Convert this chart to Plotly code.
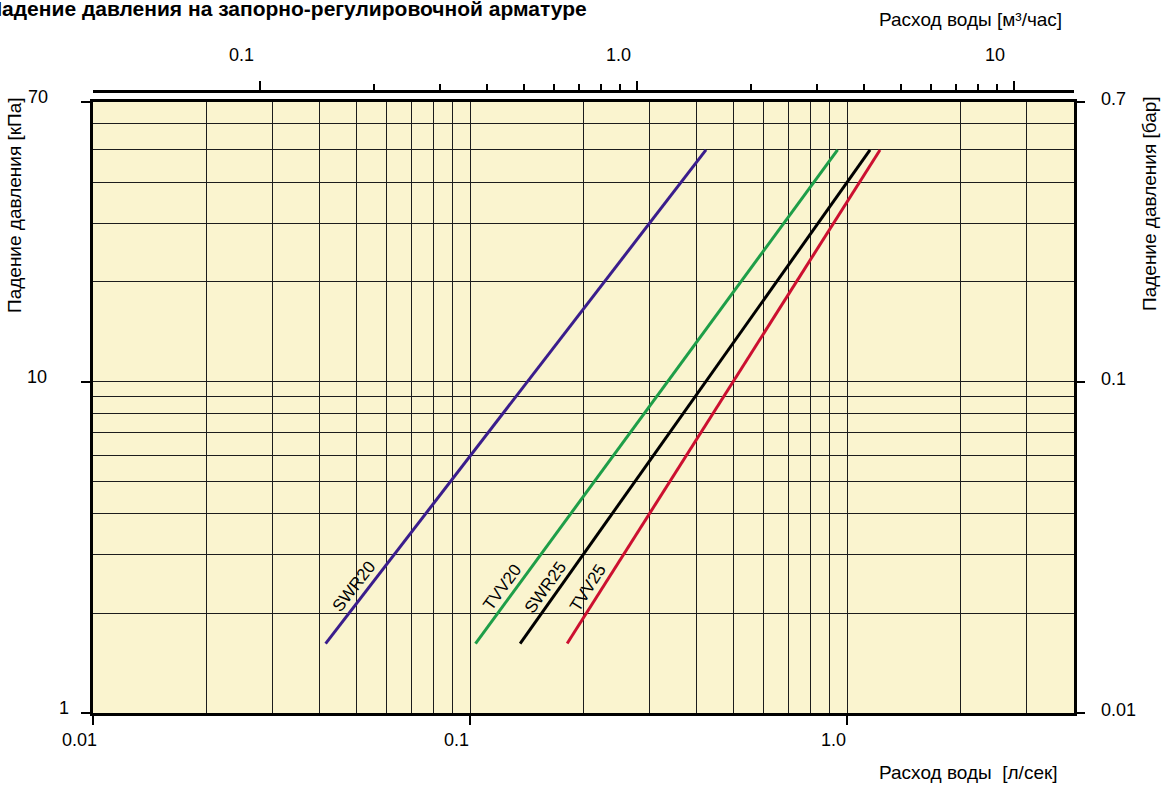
import math
import plotly.graph_objects as go

# ---------------- data ----------------
series_names = ["SWR20", "TVV20", "SWR25", "TVV25"]
flow_start_ls = [0.0414, 0.1034, 0.1358, 0.181]   # л/сек at start of line
flow_end_ls = [0.4226, 0.944, 1.151, 1.223]       # л/сек at end of line
dp_start_kpa = [1.62, 1.62, 1.62, 1.62]
dp_end_kpa = [50, 50, 50, 50]

bottom_tick_vals = [0.01, 0.1, 1.0]
bottom_tick_text = ["0.01", "0.1", "1.0"]
top_tick_vals = [0.1, 1, 10]
top_tick_text = ["0.1", "1.0", "10"]
top_minor_vals = [0.2, 0.3, 0.4, 0.5, 0.6, 0.7, 0.8, 0.9, 2, 3, 4, 5, 6, 7, 8, 9]
left_tick_vals = [70, 10, 1]
left_tick_text = ["70", "10", "1"]
right_tick_vals = [0.7, 0.1, 0.01]
right_tick_text = ["0.7", "0.1", "0.01"]
x_grid_vals = [0.02, 0.03, 0.04, 0.05, 0.06, 0.07, 0.08, 0.09,
               0.2, 0.3, 0.4, 0.5, 0.6, 0.7, 0.8, 0.9, 2, 3]
y_grid_vals = [2, 3, 4, 5, 6, 7, 8, 9, 20, 30, 40, 50, 60]

x_range_ls = [0.01, 4.0]
y_range_kpa = [1, 70]
LS_TO_M3H = 3.6
KPA_TO_BAR = 0.01

# ---------------- styles ----------------
colors = ["#3a1d8c", "#1e9e48", "#000000", "#cc1030"]
FONT = "Liberation Sans, Arial, Helvetica, sans-serif"
W, H = 1168, 785
L, R, T, B = 93, 1074, 91, 713
PLOT_TOP = 101.5
GRID = "#1c1c1c"
BG = "#FAF4CF"
TICK_FS = 18
TITLE_FS = 19
LABEL_FS = 17
MAIN_FS = 21


def px(xp):
    return (xp - L) / (R - L)


def py(yp):
    return (B - yp) / (B - T)


fig = go.Figure()

for name, x0, x1, y0, y1, c in zip(series_names, flow_start_ls, flow_end_ls,
                                   dp_start_kpa, dp_end_kpa, colors):
    fig.add_trace(go.Scatter(x=[x0, x1], y=[y0, y1], mode="lines",
                             line=dict(color=c, width=3), name=name,
                             showlegend=False, hoverinfo="skip"))

# invisible traces so that the secondary axes are drawn
fig.add_trace(go.Scatter(x=[x_range_ls[0] * LS_TO_M3H, x_range_ls[1] * LS_TO_M3H],
                         y=[2, 2], xaxis="x2", yaxis="y", mode="markers",
                         marker=dict(opacity=0), showlegend=False, hoverinfo="skip"))
fig.add_trace(go.Scatter(x=[0.1, 0.2], y=[0.02, 0.03], xaxis="x", yaxis="y2",
                         mode="markers", marker=dict(opacity=0),
                         showlegend=False, hoverinfo="skip"))

xr = [math.log10(v) for v in x_range_ls]
yr = [math.log10(v) for v in y_range_kpa]
dom_top = py(PLOT_TOP)

fig.update_layout(
    width=W, height=H, autosize=False,
    margin=dict(l=L, r=W - R, t=T, b=H - B, pad=0),
    paper_bgcolor="white", plot_bgcolor=BG,
    font=dict(family=FONT, size=16, color="black"),
    xaxis=dict(type="log", range=xr, domain=[0, 1], anchor="y",
               showline=True, linecolor="black", linewidth=2.5, mirror=True,
               ticks="outside", ticklen=9, tickwidth=2, tickcolor="black",
               tickvals=bottom_tick_vals, showticklabels=False,
               showgrid=True, gridcolor=GRID, gridwidth=1, zeroline=False,
               minor=dict(tickvals=x_grid_vals, showgrid=True, gridcolor=GRID,
                          gridwidth=1, ticks="")),
    yaxis=dict(type="log", range=yr, domain=[0, dom_top], anchor="x",
               showline=True, linecolor="black", linewidth=2.5, mirror=False,
               ticks="outside", ticklen=9, tickwidth=2, tickcolor="black",
               tickvals=left_tick_vals, showticklabels=False,
               showgrid=True, gridcolor=GRID, gridwidth=1, zeroline=False,
               minor=dict(tickvals=y_grid_vals, showgrid=True, gridcolor=GRID,
                          gridwidth=1, ticks="")),
    yaxis2=dict(type="log",
                range=[math.log10(y_range_kpa[0] * KPA_TO_BAR),
                       math.log10(y_range_kpa[1] * KPA_TO_BAR)],
                overlaying="y", side="right", anchor="x",
                showline=True, linecolor="black", linewidth=2.5,
                ticks="outside", ticklen=8, tickwidth=2, tickcolor="black",
                tickvals=right_tick_vals, showticklabels=False,
                showgrid=False, zeroline=False),
    xaxis2=dict(type="log",
                range=[math.log10(x_range_ls[0] * LS_TO_M3H),
                       math.log10(x_range_ls[1] * LS_TO_M3H)],
                overlaying="x", side="top", anchor="free", position=1,
                showline=True, linecolor="black", linewidth=2.5,
                ticks="outside", ticklen=9, tickwidth=2, tickcolor="black",
                tickvals=top_tick_vals, showticklabels=False,
                showgrid=False, zeroline=False,
                minor=dict(tickvals=top_minor_vals, ticks="outside", ticklen=6,
                           tickwidth=1.5, tickcolor="black", showgrid=False)),
)

ann = []
# bottom tick labels
for v, t in zip(bottom_tick_vals, bottom_tick_text):
    ann.append(dict(x=math.log10(v), xref="x", y=py(740), yref="paper",
                    text=t, showarrow=False, xanchor="center", yanchor="middle",
                    xshift=-14, font=dict(size=TICK_FS)))
# top tick labels
for v, t in zip(top_tick_vals, top_tick_text):
    ann.append(dict(x=math.log10(v), xref="x2", y=py(55), yref="paper",
                    text=t, showarrow=False, xanchor="center", yanchor="middle",
                    xshift=-19, font=dict(size=TICK_FS)))
# left tick labels
left_label_right_px = [50, 49, 71]
for v, t, rx in zip(left_tick_vals, left_tick_text, left_label_right_px):
    ann.append(dict(x=px(rx), xref="paper", y=math.log10(v), yref="y",
                    text=t, showarrow=False, xanchor="right", yanchor="middle",
                    yshift=5, font=dict(size=TICK_FS)))
# right tick labels
for v, t in zip(right_tick_vals, right_tick_text):
    ann.append(dict(x=px(1099), xref="paper", y=math.log10(v), yref="y2",
                    text=t, showarrow=False, xanchor="left", yanchor="middle",
                    yshift=3, font=dict(size=TICK_FS)))

# axis titles
ann.append(dict(x=px(877), y=py(772), xref="paper", yref="paper",
                text="Расход воды\u00a0 [л/сек]", showarrow=False,
                xanchor="left", yanchor="middle", font=dict(size=TITLE_FS)))
ann.append(dict(x=px(877), y=py(20), xref="paper", yref="paper",
                text="Расход воды [м³/час]", showarrow=False,
                xanchor="left", yanchor="middle", font=dict(size=TITLE_FS)))
ann.append(dict(x=px(15), y=py(205), xref="paper", yref="paper",
                text="Падение давления [кПа]", showarrow=False, textangle=-90,
                xanchor="center", yanchor="middle", font=dict(size=TITLE_FS)))
ann.append(dict(x=px(1150), y=py(204), xref="paper", yref="paper",
                text="Падение давления [бар]", showarrow=False, textangle=-90,
                xanchor="center", yanchor="middle", font=dict(size=TITLE_FS)))
# main title (cut at the left edge, as in the original)
ann.append(dict(x=px(-15), y=py(9), xref="paper", yref="paper",
                text="<b>Падение давления на запорно-регулировочной арматуре</b>",
                showarrow=False, xanchor="left", yanchor="middle",
                font=dict(size=MAIN_FS)))

# series labels along the lines
px_per_dec_x = (R - L) / (xr[1] - xr[0])
px_per_dec_y = (B - PLOT_TOP) / (yr[1] - yr[0])
LABEL_T = 0.10
LABEL_OFF = 12
for name, x0, x1, y0, y1 in zip(series_names, flow_start_ls, flow_end_ls,
                                dp_start_kpa, dp_end_kpa):
    lx0, lx1, ly0, ly1 = map(math.log10, (x0, x1, y0, y1))
    theta = math.atan2((ly1 - ly0) * px_per_dec_y, (lx1 - lx0) * px_per_dec_x)
    ax = lx0 + LABEL_T * (lx1 - lx0)
    ay = ly0 + LABEL_T * (ly1 - ly0)
    ann.append(dict(x=ax, y=ay, xref="x", yref="y", text=name, showarrow=False,
                    textangle=-math.degrees(theta), xanchor="center",
                    yanchor="middle",
                    xshift=-math.sin(theta) * LABEL_OFF,
                    yshift=math.cos(theta) * LABEL_OFF,
                    font=dict(size=LABEL_FS)))

fig.update_layout(annotations=ann)

fig.write_html("out.html",
               config={"displayModeBar": False},
               post_script="document.body.style.margin='0';"
                           "document.body.style.overflow='hidden';")
